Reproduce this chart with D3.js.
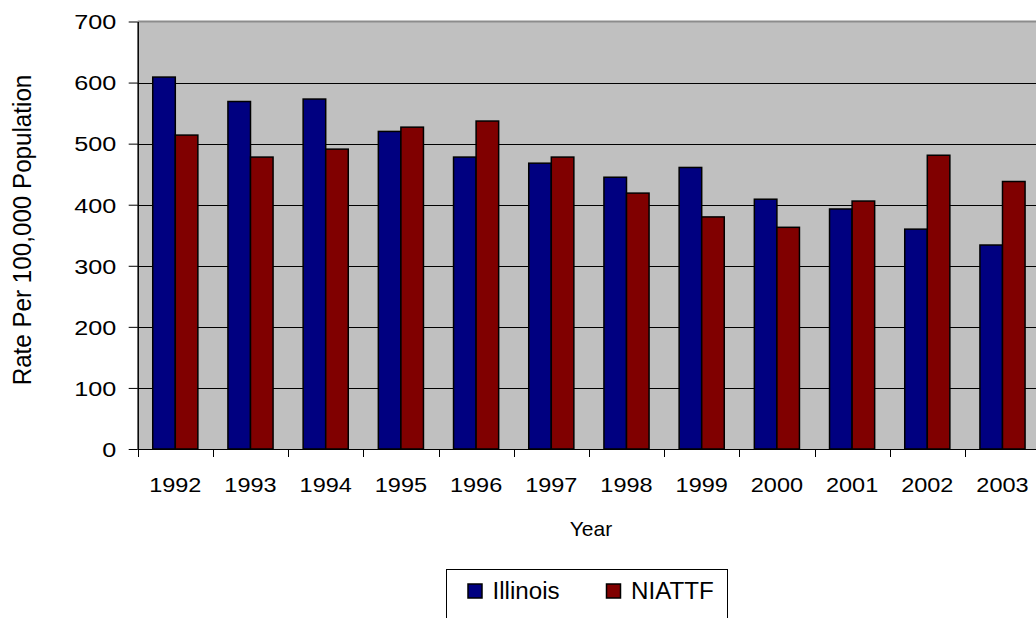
<!DOCTYPE html>
<html>
<head>
<meta charset="utf-8">
<script src="https://cdn.jsdelivr.net/npm/d3@7"></script>
<style>
  body { margin: 0; background: #fff; }
  svg { display: block; font-family: "Liberation Sans", Arial, sans-serif; }
</style>
</head>
<body>
<svg id="chart" width="1036" height="618"></svg>
<script>
const years = ['1992','1993','1994','1995','1996','1997','1998','1999','2000','2001','2002','2003']
const illinois = [609, 569, 573, 520, 478, 468, 445, 461, 409, 393, 360, 334]
const niattf = [514, 478, 491, 527, 537, 478, 419, 380, 363, 406, 481, 438]
const seriesNames = ['Illinois', 'NIATTF']
const seriesColors = ['#000080', '#800000']
const yTicks = [0, 100, 200, 300, 400, 500, 600, 700]

const svg = d3.select('#chart')

const plotLeft = 137.7, plotTop = 21.5, plotBottom = 449
const step = 75.2
const plotRight = plotLeft + step * years.length

let x = d3.scaleBand().domain(years).range([plotLeft, plotRight])
let xInner = d3.scaleBand().domain(seriesNames).range([x.bandwidth() * 0.2, x.bandwidth() * 0.8])
let y = d3.scaleLinear().domain([0, 700]).range([plotBottom, plotTop])

// plot background
svg.append('rect')
  .attr('x', plotLeft).attr('y', plotTop)
  .attr('width', plotRight - plotLeft).attr('height', plotBottom - plotTop)
  .attr('fill', '#c0c0c0')

svg.append('line')
  .attr('x1', plotLeft).attr('x2', plotRight)
  .attr('y1', y(700)).attr('y2', y(700))
  .attr('stroke', '#8c8c8c').attr('stroke-width', 2)

// gridlines
svg.append('g')
  .selectAll('line')
  .data(yTicks.filter(v => v > 0 && v < 700))
  .enter()
  .append('line')
  .attr('x1', plotLeft).attr('x2', plotRight)
  .attr('y1', v => Math.round(y(v)) + 0.5).attr('y2', v => Math.round(y(v)) + 0.5)
  .attr('stroke', '#000').attr('stroke-width', 1)

// bars
const rows = years.map((yr, i) => ({ year: yr, values: [illinois[i], niattf[i]] }))

svg.append('g')
  .selectAll('g')
  .data(rows)
  .enter()
  .append('g')
  .attr('transform', d => `translate(${x(d.year)},0)`)
  .selectAll('rect')
  .data(d => d.values.map((v, j) => ({ name: seriesNames[j], value: v, color: seriesColors[j] })))
  .enter()
  .append('rect')
  .attr('x', d => xInner(d.name))
  .attr('y', d => y(d.value))
  .attr('width', xInner.bandwidth())
  .attr('height', d => plotBottom - y(d.value))
  .attr('fill', d => d.color)
  .attr('stroke', '#000')
  .attr('stroke-width', 1.5)

// y axis
let yAxis = d3.axisLeft(y).tickValues(yTicks).tickSize(9).tickSizeOuter(0)
let gy = svg.append('g')
  .attr('transform', `translate(${plotLeft},0)`)
  .call(yAxis)
gy.select('.domain').attr('stroke', '#000').attr('stroke-width', 1.5)
gy.selectAll('.tick line').attr('stroke', '#000')
gy.selectAll('.tick text')
  .attr('x', 0).attr('dy', '0.35em')
  .attr('transform', 'translate(-21.5,0) scale(1.2,1)')
  .attr('fill', '#000')
  .style('font-size', '21px')
  .style('font-family', '"Liberation Sans", Arial, sans-serif')

// x axis labels
let xAxis = d3.axisBottom(x).tickSize(0).tickSizeOuter(0)
let gx = svg.append('g')
  .attr('transform', `translate(0,${plotBottom})`)
  .call(xAxis)
gx.select('.domain').attr('stroke', '#000').attr('stroke-width', 1)
gx.selectAll('.tick text')
  .attr('y', 43).attr('dy', null)
  .attr('transform', 'scale(1.12,1)')
  .attr('fill', '#000')
  .style('font-size', '21px')
  .style('font-family', '"Liberation Sans", Arial, sans-serif')

// boundary tick marks between categories
svg.append('g')
  .selectAll('line')
  .data(years)
  .enter()
  .append('line')
  .attr('x1', d => Math.round(x(d)) + 0.5).attr('x2', d => Math.round(x(d)) + 0.5)
  .attr('y1', plotBottom).attr('y2', plotBottom + 8)
  .attr('stroke', '#000')

// axis titles
svg.append('text')
  .attr('x', 591).attr('y', 536)
  .attr('text-anchor', 'middle')
  .style('font-size', '21px')
  .text('Year')

svg.append('text')
  .attr('transform', 'translate(31,230) rotate(-90) scale(1.1,1.2)')
  .attr('text-anchor', 'middle')
  .style('font-size', '22px')
  .text('Rate Per 100,000 Population')

// legend
let legend = svg.append('g')
legend.append('rect')
  .attr('x', 446.5).attr('y', 569.5)
  .attr('width', 281).attr('height', 70)
  .attr('fill', '#fff').attr('stroke', '#000')

const legendX = [468, 606.5]
seriesNames.forEach((name, i) => {
  legend.append('rect')
    .attr('x', legendX[i]).attr('y', 584)
    .attr('width', 14).attr('height', 14)
    .attr('fill', seriesColors[i])
    .attr('stroke', '#000').attr('stroke-width', 1.5)
  legend.append('text')
    .attr('transform', `translate(${legendX[i] + 24.5},599) scale(1.05,1)`)
    .style('font-size', '23px')
    .text(name)
})
</script>
</body>
</html>
